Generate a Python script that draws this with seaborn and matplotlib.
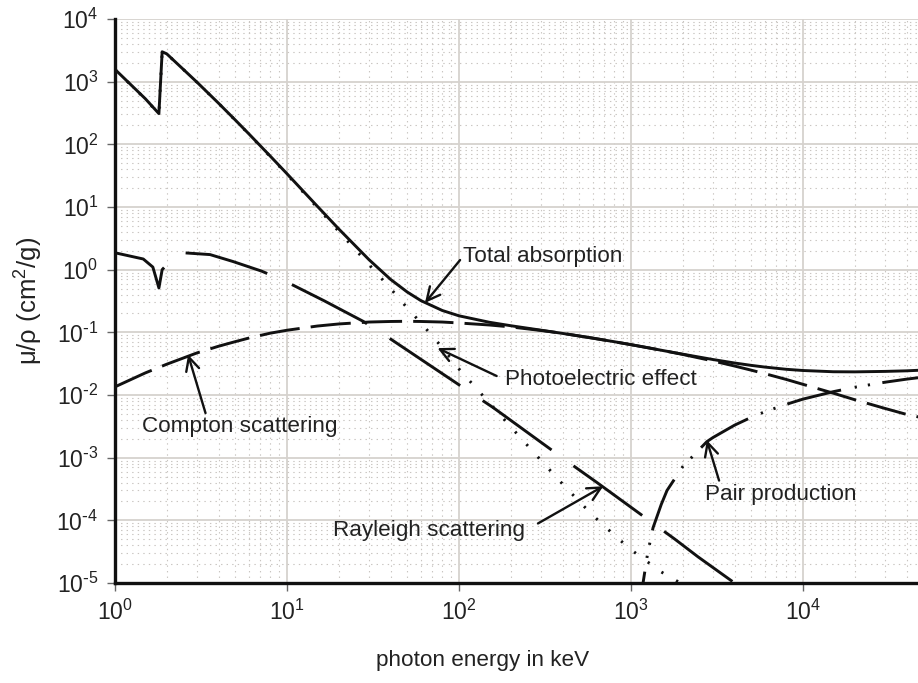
import matplotlib
matplotlib.use("Agg")
import matplotlib.pyplot as plt
import numpy as np
import pandas as pd
import seaborn as sns
from matplotlib.ticker import FuncFormatter, LogLocator, NullFormatter

# photon energy (keV) and mass attenuation coefficients (cm^2/g)
total_energy = [1, 1.5, 1.8, 1.88, 2, 3, 4, 5, 6, 8, 10, 15, 20, 30, 40, 50, 60, 80,
                100, 150, 200, 300, 400, 500, 600, 800, 1000, 1250, 1500, 2000, 3000,
                4000, 5000, 6000, 8000, 10000, 15000, 20000, 30000, 40000, 50000]
total_mu = [1570, 535, 309, 3000, 2777, 978, 453, 245, 147, 64.7, 33.9, 10.3, 4.46,
            1.44, 0.70, 0.44, 0.321, 0.223, 0.1835, 0.1448, 0.1275, 0.1082, 0.0961,
            0.0875, 0.0808, 0.0708, 0.0636, 0.0569, 0.0518, 0.0448, 0.0368, 0.0324,
            0.0297, 0.0279, 0.0257, 0.0246, 0.0235, 0.0234, 0.0238, 0.0243, 0.0250]

photo_energy = [1, 1.5, 1.8, 1.88, 2, 3, 4, 5, 6, 8, 10, 15, 20, 30, 40, 50, 60, 80,
                100, 150, 200, 300, 400, 500, 600, 800, 1000, 1500, 2000]
photo_mu = [1560, 530, 305, 2990, 2770, 975, 450, 243, 145.5, 63.6, 33.0, 9.8, 4.08,
            1.20, 0.50, 0.245, 0.142, 0.057, 0.026, 0.0075, 0.0031, 9.0e-4, 3.8e-4,
            2.0e-4, 1.2e-4, 5.8e-5, 3.4e-5, 1.5e-5, 9.5e-6]

compton_energy = [1, 1.5, 2, 3, 4, 5, 6, 8, 10, 15, 20, 30, 40, 50, 60, 80, 100, 150,
                  200, 300, 400, 500, 600, 800, 1000, 1500, 2000, 3000, 4000, 5000,
                  6000, 8000, 10000, 15000, 20000, 30000, 40000, 50000]
compton_mu = [0.0135, 0.0225, 0.031, 0.047, 0.060, 0.071, 0.081, 0.097, 0.108, 0.126,
              0.136, 0.146, 0.149, 0.150, 0.149, 0.146, 0.141, 0.131, 0.122, 0.107,
              0.0965, 0.0873, 0.0807, 0.0707, 0.0636, 0.0518, 0.0444, 0.0349, 0.0290,
              0.0249, 0.0219, 0.0177, 0.0148, 0.0107, 0.0084, 0.0061, 0.0049, 0.0043]

rayleigh_energy = [1, 1.46, 1.66, 1.8, 1.88, 2.2, 2.5, 3.57, 4.85, 7.1, 9.7, 16.4, 27.7,
                   39, 111, 158, 448, 635, 1800, 2460, 4000, 5000]
rayleigh_mu = [1.86, 1.48, 1.1, 0.51, 1.0, 1.6, 1.86, 1.74, 1.35, 0.95, 0.66, 0.32, 0.15,
               0.082, 0.012, 0.0063, 7.9e-4, 4.0e-4, 5.0e-5, 2.6e-5, 1.0e-5, 6.4e-6]

pair_energy = [1100, 1175, 1250, 1343, 1500, 1620, 2000, 2760, 3000, 4000, 5000, 6000,
               8000, 10000, 15000, 20000, 30000, 40000, 50000]
pair_mu = [2e-6, 1e-5, 3.0e-5, 7.6e-5, 1.8e-4, 3.0e-4, 7.2e-4, 1.8e-3, 2.1e-3, 3.3e-3,
           4.4e-3, 5.4e-3, 7.1e-3, 8.6e-3, 0.0113, 0.0133, 0.0160, 0.0179, 0.0193]

sns.set_theme(style="white")
plt.rcParams["font.family"] = ["Liberation Sans", "DejaVu Sans"]
plt.rcParams["mathtext.default"] = "regular"
plt.rcParams["lines.scale_dashes"] = False

fig = plt.figure(figsize=(9.18, 6.83), dpi=100)
ax = fig.add_axes([115 / 918, 1 - 583 / 683, 1 - 115 / 918, (583 - 19) / 683])
ax.set_xscale("log")
ax.set_yscale("log")

line_color = "#111111"
series = [
    (photo_energy, photo_mu, (0, (1.6, 10.6))),
    (rayleigh_energy, rayleigh_mu, (0, (61, 19.5))),
    (compton_energy, compton_mu, (0, (29, 8))),
    (pair_energy, pair_mu, (0, (40, 10, 1.6, 8, 1.6, 9))),
    (total_energy, total_mu, "-"),
]
for energy, mu, style in series:
    df = pd.DataFrame({"energy": energy, "mu": mu})
    sns.lineplot(data=df, x="energy", y="mu", ax=ax, color=line_color, lw=2.1,
                 linestyle=style, estimator=None, sort=False)

ax.set_xlim(1, 10 ** (803 / 172))
ax.set_ylim(1e-5, 1e4)


def power_label(value, pos):
    exponent = int(round(np.log10(value)))
    if exponent < 0:
        return "$10^{\\text{-}%d}$" % (-exponent)
    return "$10^{%d}$" % exponent


ax.xaxis.set_major_locator(LogLocator(base=10, numticks=20))
ax.yaxis.set_major_locator(LogLocator(base=10, numticks=20))
ax.xaxis.set_major_formatter(FuncFormatter(power_label))
ax.yaxis.set_major_formatter(FuncFormatter(power_label))
ax.xaxis.set_minor_locator(LogLocator(base=10, subs=np.arange(2, 10), numticks=100))
ax.yaxis.set_minor_locator(LogLocator(base=10, subs=np.arange(2, 10), numticks=100))
ax.xaxis.set_minor_formatter(NullFormatter())
ax.yaxis.set_minor_formatter(NullFormatter())

ax.grid(which="major", color="#d6d2ce", lw=1.3, ls="-")
ax.grid(which="minor", color="#c9c5c1", lw=0.8, ls=(0, (1, 3)))
ax.set_axisbelow(True)

for side in ["top", "right"]:
    ax.spines[side].set_visible(False)
for side in ["left", "bottom"]:
    ax.spines[side].set_linewidth(2.4)
    ax.spines[side].set_color("#111111")

ax.tick_params(which="major", direction="out", length=6, width=1, color="#666666",
               labelsize=16.5, labelcolor="#222222", left=True, bottom=True)
ax.tick_params(axis="y", which="major", pad=6)
ax.tick_params(axis="x", which="major", pad=6)
ax.tick_params(which="minor", length=0)

ax.set_xlabel("photon energy in keV", fontsize=16.2, color="#222222")
ax.set_ylabel("μ/ρ (cm$^2$/g)", fontsize=18.5, color="#222222")
ax.xaxis.set_label_coords(0.458, -0.118)
ax.yaxis.set_label_coords(-0.087, 0.5)

arrow = dict(arrowstyle="->", color=line_color, lw=1.7, shrinkA=0, shrinkB=0,
             mutation_scale=24)
label_kw = dict(fontsize=16.2, color="#222222", va="center")

ax.annotate("Total absorption", xy=(63.4, 0.295), xytext=(106, 1.65),
            ha="left", arrowprops=dict(arrow, relpos=(0, 0.5)), **label_kw)
ax.annotate("Photoelectric effect", xy=(75, 0.056), xytext=(185, 0.0174),
            ha="left", arrowprops=dict(arrow, relpos=(0, 0.5), shrinkA=4), **label_kw)
ax.annotate("Compton scattering", xy=(2.66, 0.044), xytext=(1.435, 0.0031),
            ha="left", arrowprops=dict(arrow, relpos=(0.33, 1.0)), **label_kw)
ax.annotate("Pair production", xy=(2760, 1.9e-3), xytext=(2690, 2.6e-4),
            ha="left", arrowprops=dict(arrow, relpos=(0.1, 1.0)), **label_kw)
ax.annotate("Rayleigh scattering", xy=(690, 3.5e-4), xytext=(242, 6.8e-5),
            ha="right", arrowprops=dict(arrow, relpos=(1.0, 0.5), shrinkA=8),
            **label_kw)

fig.savefig("out.png", dpi=100)
